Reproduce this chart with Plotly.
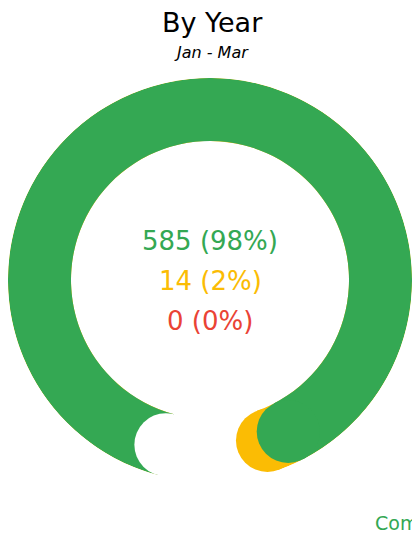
import numpy as np
import plotly.graph_objects as go

# ---- data ----
labels = ["Completed", "In Progress", "Overdue"]
values = [585, 14, 0]
colors = ["#34A853", "#FBBC04", "#EA4335"]
title_text = "By Year"
subtitle_text = "Jan - Mar"
legend_label = "Completed"

# ---- geometry / style ----
W, H = 412, 536
START_DEG = 195.0      # clockwise from top
ARC_SPAN = 325.3       # degrees covered by the full total
R_IN, R_OUT = 139.0, 202.0
CX, CY = 210.0, 280.0  # ring centre in px (from top-left)
FONT = "DejaVu Sans"

total = sum(values)
cum = np.cumsum(values)
band = R_OUT - R_IN
r_mid = (R_IN + R_OUT) / 2

fig = go.Figure()

order = list(range(len(values)))[::-1]
for i in order:
    if values[i] <= 0:
        continue
    sweep = cum[i] / total * ARC_SPAN
    fig.add_trace(go.Barpolar(
        r=[band], base=[R_IN], theta=[START_DEG + sweep / 2], width=[sweep],
        marker=dict(color=colors[i], line=dict(width=0)),
        hoverinfo="skip", showlegend=False,
    ))
    fig.add_trace(go.Scatterpolar(
        r=[r_mid], theta=[START_DEG + sweep], mode="markers",
        marker=dict(color=colors[i], size=band, line=dict(width=0)),
        hoverinfo="skip", showlegend=False,
    ))

# white notch at the arc start
fig.add_trace(go.Scatterpolar(
    r=[r_mid], theta=[START_DEG], mode="markers",
    marker=dict(color="white", size=band, line=dict(width=0)),
    hoverinfo="skip", showlegend=False,
))

fig.update_layout(
    width=W, height=H,
    margin=dict(l=0, r=0, t=0, b=0),
    paper_bgcolor="white",
    font=dict(family=FONT),
    polar=dict(
        domain=dict(x=[(CX - R_OUT) / W, min(1.0, (CX + R_OUT) / W)],
                    y=[(H - CY - R_OUT) / H, (H - CY + R_OUT) / H]),
        bgcolor="rgba(0,0,0,0)",
        hole=0,
        radialaxis=dict(range=[0, R_OUT], visible=False, showgrid=False),
        angularaxis=dict(rotation=90, direction="clockwise", visible=False,
                         showgrid=False),
        barmode="overlay",
    ),
    showlegend=False,
)

def ypx(p):
    return 1 - p / H

def xpx(p):
    return p / W

ann = [
    dict(text=title_text, x=xpx(212), y=ypx(23), font=dict(size=27, color="#000000")),
    dict(text="<i>" + subtitle_text + "</i>", x=xpx(211), y=ypx(53), font=dict(size=16, color="#000000")),
]
for k, (v, c) in enumerate(zip(values, colors)):
    pct = round(v / total * 100)
    ann.append(dict(text=f"{v} ({pct}%)", x=xpx(210), y=ypx(241 + 40 * k),
                    font=dict(size=26, color=c)))
for a in ann:
    a.update(xref="paper", yref="paper", showarrow=False, xanchor="center", yanchor="middle")
ann.append(dict(text=legend_label, xref="paper", yref="paper", x=xpx(373), y=ypx(523),
                xanchor="left", yanchor="middle", showarrow=False,
                font=dict(size=19, color=colors[0])))
fig.update_layout(annotations=ann)

fig.write_html(
    "out.html",
    config={"displayModeBar": False, "staticPlot": True},
    post_script="document.body.style.margin='0';document.body.style.overflow='hidden';",
)
